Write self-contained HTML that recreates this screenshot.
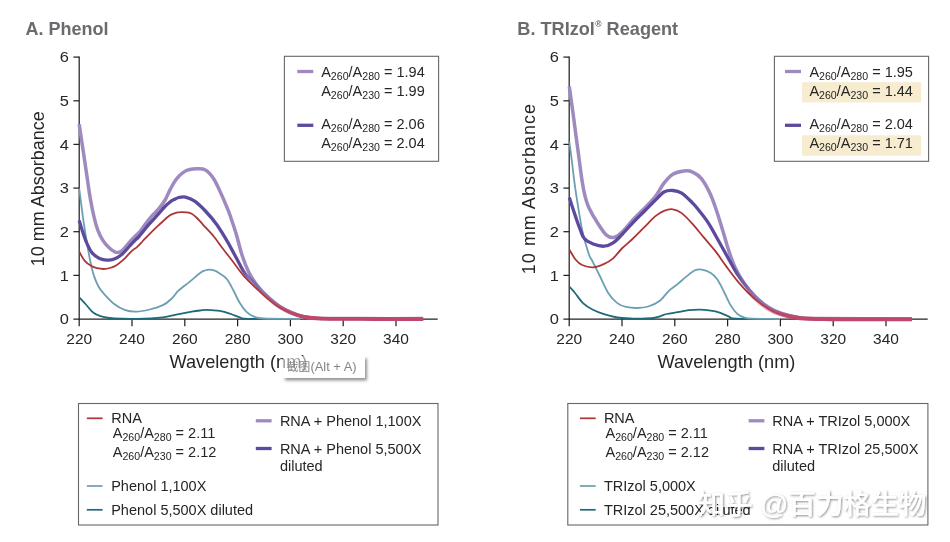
<!DOCTYPE html>
<html><head><meta charset="utf-8"><title>Phenol and TRIzol Reagent absorbance</title>
<style>
html,body{margin:0;padding:0;background:#fff}
body{width:950px;height:542px;overflow:hidden;position:relative;font-family:"Liberation Sans","Noto Sans CJK SC",sans-serif}
svg{position:absolute;left:0;top:0;display:block}
text{font-family:"Liberation Sans","Noto Sans CJK SC",sans-serif;fill:#262626}
.t{font-size:14.5px}
.k{font-size:15.2px}
.s{font-size:10.6px}
.ax{font-size:18px}
.ttl{font-size:18px;font-weight:bold;fill:#6a6b6e}
.c{fill:none;stroke-linecap:butt;stroke-linejoin:round}
.wm{font-family:"Liberation Sans","Noto Sans CJK SC",sans-serif;font-size:27.6px;font-weight:500}
</style></head><body>
<svg width="950" height="542" viewBox="0 0 950 542">
<defs>
<filter id="sh" x="-10%" y="-30%" width="125%" height="180%"><feGaussianBlur in="SourceAlpha" stdDeviation="1.6"/><feOffset dx="1.5" dy="2"/><feComponentTransfer><feFuncA type="linear" slope="0.45"/></feComponentTransfer><feMerge><feMergeNode/><feMergeNode in="SourceGraphic"/></feMerge></filter>
<filter id="wms" x="-5%" y="-20%" width="110%" height="140%"><feGaussianBlur in="SourceAlpha" stdDeviation="0.9"/><feOffset dx="0.9" dy="0.9"/><feComponentTransfer><feFuncA type="linear" slope="0.45"/></feComponentTransfer><feMerge><feMergeNode/><feMergeNode in="SourceGraphic"/></feMerge></filter>
<linearGradient id="tgL" gradientUnits="userSpaceOnUse" x1="256" y1="0" x2="300" y2="0"><stop offset="0" stop-color="#c0476a" stop-opacity="0"/><stop offset="1" stop-color="#c0476a" stop-opacity="1"/></linearGradient>
<linearGradient id="tgR" gradientUnits="userSpaceOnUse" x1="746" y1="0" x2="792" y2="0"><stop offset="0" stop-color="#c0476a" stop-opacity="0"/><stop offset="1" stop-color="#c0476a" stop-opacity="1"/></linearGradient>
<linearGradient id="dpL" gradientUnits="userSpaceOnUse" x1="242" y1="0" x2="262" y2="0"><stop offset="0" stop-color="#5d4a9e" stop-opacity="1"/><stop offset="1" stop-color="#5d4a9e" stop-opacity="0.3"/></linearGradient>
<linearGradient id="dpR" gradientUnits="userSpaceOnUse" x1="734" y1="0" x2="754" y2="0"><stop offset="0" stop-color="#5d4a9e" stop-opacity="1"/><stop offset="1" stop-color="#5d4a9e" stop-opacity="0.3"/></linearGradient>
<filter id="bl" x="-10%" y="-40%" width="120%" height="180%"><feGaussianBlur stdDeviation="1.6"/></filter>
</defs>
<rect width="950" height="542" fill="#fff"/>
<g stroke="#222" stroke-width="1.25" fill="none">
<path d="M79.2 56.4V319.6"/><path d="M73.4 319.0H437.7"/><path d="M73.4 275.4H79.2"/><path d="M73.4 231.7H79.2"/><path d="M73.4 188.1H79.2"/><path d="M73.4 144.4H79.2"/><path d="M73.4 100.8H79.2"/><path d="M73.4 57.1H79.2"/><path d="M79.2 319.0V326.3"/><path d="M132.0 319.0V326.3"/><path d="M184.8 319.0V326.3"/><path d="M237.6 319.0V326.3"/><path d="M290.4 319.0V326.3"/><path d="M343.2 319.0V326.3"/><path d="M396.0 319.0V326.3"/></g>
<text class="k" transform="translate(69.0 324.3) scale(1.080 1)" text-anchor="end">0</text>
<text class="k" transform="translate(69.0 280.7) scale(1.080 1)" text-anchor="end">1</text>
<text class="k" transform="translate(69.0 237.0) scale(1.080 1)" text-anchor="end">2</text>
<text class="k" transform="translate(69.0 193.4) scale(1.080 1)" text-anchor="end">3</text>
<text class="k" transform="translate(69.0 149.7) scale(1.080 1)" text-anchor="end">4</text>
<text class="k" transform="translate(69.0 106.0) scale(1.080 1)" text-anchor="end">5</text>
<text class="k" transform="translate(69.0 62.4) scale(1.080 1)" text-anchor="end">6</text>
<text class="k" transform="translate(79.2 343.7) scale(1.020 1)" text-anchor="middle">220</text>
<text class="k" transform="translate(132.0 343.7) scale(1.020 1)" text-anchor="middle">240</text>
<text class="k" transform="translate(184.8 343.7) scale(1.020 1)" text-anchor="middle">260</text>
<text class="k" transform="translate(237.6 343.7) scale(1.020 1)" text-anchor="middle">280</text>
<text class="k" transform="translate(290.4 343.7) scale(1.020 1)" text-anchor="middle">300</text>
<text class="k" transform="translate(343.2 343.7) scale(1.020 1)" text-anchor="middle">320</text>
<text class="k" transform="translate(396.0 343.7) scale(1.020 1)" text-anchor="middle">340</text>
<path class="c" stroke="#1f6a79" stroke-width="1.8" d="M79.2 297.3C80.2 298.4 83.3 301.6 85.5 304.0C87.7 306.4 90.2 309.9 92.1 311.7C94.0 313.5 95.2 313.9 97.0 314.8C98.8 315.7 100.3 316.2 103.2 316.8C106.1 317.4 108.7 318.1 114.2 318.4C119.7 318.7 128.3 319.0 136.4 318.8C144.5 318.6 156.3 318.0 162.9 317.3C169.5 316.6 171.4 315.5 176.2 314.6C181.0 313.7 187.7 312.4 191.7 311.7C195.7 311.0 197.4 310.8 200.0 310.5C202.6 310.2 203.9 309.7 207.2 309.8C210.5 309.9 215.9 310.2 219.9 310.9C223.9 311.6 227.7 312.9 231.0 314.0C234.3 315.1 236.9 316.5 239.8 317.3C242.8 318.1 238.7 318.6 248.7 318.9C258.7 319.2 291.4 319.0 300.0 319.0"/>
<path class="c" stroke="#6b9fb2" stroke-width="1.8" d="M79.2 188.5C79.8 193.2 81.7 208.2 82.9 216.9C84.1 225.6 85.4 233.5 86.6 240.9C87.8 248.3 89.1 255.4 90.3 261.2C91.5 267.0 92.6 271.7 94.0 275.9C95.4 280.1 97.0 283.7 98.5 286.5C100.0 289.3 100.6 290.0 103.2 292.9C105.8 295.8 110.5 301.1 114.2 304.0C117.9 306.9 121.6 308.9 125.3 310.2C129.0 311.5 132.3 311.8 136.4 311.7C140.5 311.6 145.2 310.6 149.6 309.5C154.0 308.4 159.2 306.9 162.9 305.1C166.6 303.3 169.2 300.9 171.8 298.5C174.4 296.1 175.5 293.5 178.4 290.7C181.3 287.9 185.8 284.9 189.5 281.9C193.2 278.9 197.9 274.7 200.5 272.8C203.1 270.9 203.5 271.0 205.0 270.5C206.5 270.0 208.1 269.7 209.6 269.7C211.1 269.7 212.6 269.9 214.0 270.4C215.4 270.8 216.1 271.0 218.2 272.4C220.3 273.8 224.0 275.7 226.5 278.6C229.0 281.5 231.0 285.9 233.2 290.0C235.4 294.1 237.6 299.4 239.8 303.0C242.0 306.6 244.1 309.5 246.5 311.8C248.9 314.1 251.1 315.5 254.0 316.6C256.9 317.7 256.3 318.1 264.0 318.5C271.7 318.9 294.0 318.9 300.0 319.0"/>
<path class="c" stroke="#9f8abf" stroke-width="3.5" d="M79.2 124.3C79.9 129.1 82.1 143.7 83.5 153.0C84.9 162.3 86.4 172.4 87.5 180.0C88.6 187.6 89.2 192.3 90.3 198.5C91.4 204.7 92.8 211.7 94.0 216.9C95.2 222.1 96.2 225.8 97.7 229.8C99.2 233.8 101.2 237.8 103.2 240.9C105.2 244.0 107.6 246.4 109.7 248.3C111.8 250.2 114.1 252.0 116.1 252.4C118.1 252.8 119.8 252.3 121.7 251.0C123.6 249.7 125.8 246.5 127.5 244.6C129.2 242.7 130.7 240.9 132.0 239.4C133.3 237.9 134.4 237.0 135.6 235.8C136.8 234.6 137.9 233.9 139.4 232.2C140.9 230.5 142.2 228.3 144.3 225.6C146.4 222.9 149.3 218.9 151.7 216.2C154.1 213.5 156.3 211.9 158.5 209.2C160.7 206.5 163.2 203.2 165.1 200.0C167.0 196.8 168.1 193.3 170.0 189.8C171.9 186.3 174.0 181.9 176.6 178.8C179.2 175.7 182.2 172.7 185.5 171.0C188.8 169.3 193.2 169.0 196.5 168.8C199.8 168.6 202.6 168.3 205.4 169.9C208.2 171.5 210.8 174.4 213.5 178.5C216.2 182.6 219.0 189.1 221.4 194.4C223.8 199.7 226.5 206.2 228.2 210.4C229.9 214.6 230.1 215.5 231.5 219.6C232.9 223.7 234.8 229.1 236.5 235.0C238.2 240.9 240.0 248.8 242.0 255.0C244.0 261.2 246.1 266.8 248.7 272.0C251.3 277.2 254.4 281.9 257.5 286.0C260.6 290.1 263.9 293.3 267.5 296.6C271.1 299.9 275.1 303.4 279.0 306.0C282.9 308.6 287.0 310.6 291.0 312.4C295.0 314.1 298.5 315.5 303.0 316.5C307.5 317.5 308.5 317.9 318.0 318.3C327.5 318.7 342.5 318.6 360.0 318.6C377.5 318.7 412.5 318.6 423.0 318.6"/>
<path class="c" stroke="url(#dpL)" stroke-width="3.3" d="M79.2 220.5C79.7 222.1 80.8 226.1 82.0 229.8C83.2 233.5 84.9 238.8 86.6 242.7C88.3 246.5 89.9 250.3 92.1 252.9C94.2 255.5 97.0 257.2 99.5 258.4C102.0 259.6 104.4 260.0 106.9 260.1C109.4 260.2 111.8 259.9 114.3 259.0C116.8 258.1 119.1 256.8 121.7 254.6C124.3 252.4 127.6 248.3 129.7 246.0C131.8 243.7 133.0 242.3 134.5 240.8C136.0 239.3 137.2 238.5 138.6 237.0C140.0 235.5 141.1 233.9 143.0 231.6C144.9 229.3 147.4 226.1 150.0 223.2C152.6 220.2 156.0 216.7 158.5 213.9C161.0 211.1 163.1 208.5 165.0 206.5C166.9 204.5 168.5 203.2 170.0 202.0C171.5 200.8 172.5 200.3 174.0 199.6C175.5 198.8 176.9 197.9 178.8 197.5C180.7 197.1 182.9 196.5 185.5 197.1C188.1 197.7 191.0 198.6 194.3 200.9C197.6 203.2 201.7 207.1 205.4 211.0C209.1 214.9 212.8 219.1 216.5 224.3C220.2 229.5 224.2 236.1 227.7 242.1C231.2 248.1 234.8 255.2 237.7 260.5C240.6 265.8 242.1 269.7 245.4 274.0C248.7 278.3 253.8 282.4 257.5 286.2C261.2 290.0 263.9 293.3 267.5 296.6C271.1 299.9 275.1 303.4 279.0 306.0C282.9 308.6 287.0 310.6 291.0 312.4C295.0 314.1 298.5 315.5 303.0 316.5C307.5 317.5 308.5 317.9 318.0 318.3C327.5 318.7 342.5 318.6 360.0 318.6C377.5 318.7 412.5 318.6 423.0 318.6"/>
<path class="c" stroke="#ae3536" stroke-width="1.8" d="M79.2 251.8C80.1 253.3 82.8 258.5 84.8 260.8C86.8 263.1 89.0 264.6 91.0 265.8C93.0 267.0 94.9 267.7 97.0 268.2C99.1 268.7 101.3 269.0 103.5 269.0C105.7 269.0 107.8 268.6 110.0 268.0C112.2 267.4 114.2 266.6 116.5 265.2C118.8 263.8 121.5 261.5 123.5 259.7C125.5 257.9 127.0 255.9 128.5 254.4C130.0 252.9 131.1 251.7 132.5 250.4C133.9 249.1 135.5 248.4 137.2 246.8C138.9 245.2 140.9 243.0 142.8 241.0C144.7 239.0 146.1 237.4 148.7 234.8C151.3 232.2 155.0 228.6 158.5 225.4C162.0 222.2 166.8 217.5 169.6 215.5C172.3 213.5 173.2 213.8 175.0 213.2C176.8 212.6 178.8 212.3 180.6 212.2C182.4 212.0 184.2 212.1 186.0 212.3C187.8 212.6 189.9 212.8 191.7 213.7C193.5 214.6 195.2 216.2 197.0 218.0C198.8 219.8 199.9 221.2 202.7 224.3C205.5 227.4 210.6 232.6 213.8 236.5C217.0 240.4 218.9 243.4 222.1 247.7C225.3 251.9 229.5 257.2 233.2 262.0C236.9 266.8 240.4 272.1 244.2 276.4C248.0 280.7 252.1 284.3 256.0 288.0C259.9 291.7 263.6 295.4 267.5 298.6C271.4 301.9 275.5 305.1 279.5 307.5C283.5 309.9 287.2 311.7 291.5 313.3C295.8 314.9 299.9 316.1 305.0 317.0C310.1 317.9 312.8 318.2 322.0 318.5C331.2 318.8 343.2 318.7 360.0 318.7C376.8 318.7 412.5 318.7 423.0 318.7"/>
<path class="c" stroke="url(#tgL)" stroke-width="3.9" d="M256.0 287.4C257.9 289.1 263.6 294.6 267.5 297.8C271.4 301.1 275.3 304.4 279.3 306.9C283.3 309.4 287.2 311.3 291.3 313.0C295.4 314.7 299.1 316.0 304.0 316.9C308.9 317.8 311.7 318.3 321.0 318.6C330.3 318.9 346.8 318.8 360.0 318.9C373.2 319.0 389.4 319.1 400.0 319.1C410.6 319.1 419.4 319.1 423.3 319.1"/>
<g stroke="#222" stroke-width="1.25" fill="none">
<path d="M569.2 56.4V319.6"/><path d="M563.4 319.0H927.7"/><path d="M563.4 275.4H569.2"/><path d="M563.4 231.7H569.2"/><path d="M563.4 188.1H569.2"/><path d="M563.4 144.4H569.2"/><path d="M563.4 100.8H569.2"/><path d="M563.4 57.1H569.2"/><path d="M569.2 319.0V326.3"/><path d="M622.0 319.0V326.3"/><path d="M674.8 319.0V326.3"/><path d="M727.6 319.0V326.3"/><path d="M780.4 319.0V326.3"/><path d="M833.2 319.0V326.3"/><path d="M886.0 319.0V326.3"/></g>
<text class="k" transform="translate(559.0 324.3) scale(1.080 1)" text-anchor="end">0</text>
<text class="k" transform="translate(559.0 280.7) scale(1.080 1)" text-anchor="end">1</text>
<text class="k" transform="translate(559.0 237.0) scale(1.080 1)" text-anchor="end">2</text>
<text class="k" transform="translate(559.0 193.4) scale(1.080 1)" text-anchor="end">3</text>
<text class="k" transform="translate(559.0 149.7) scale(1.080 1)" text-anchor="end">4</text>
<text class="k" transform="translate(559.0 106.0) scale(1.080 1)" text-anchor="end">5</text>
<text class="k" transform="translate(559.0 62.4) scale(1.080 1)" text-anchor="end">6</text>
<text class="k" transform="translate(569.2 343.7) scale(1.020 1)" text-anchor="middle">220</text>
<text class="k" transform="translate(622.0 343.7) scale(1.020 1)" text-anchor="middle">240</text>
<text class="k" transform="translate(674.8 343.7) scale(1.020 1)" text-anchor="middle">260</text>
<text class="k" transform="translate(727.6 343.7) scale(1.020 1)" text-anchor="middle">280</text>
<text class="k" transform="translate(780.4 343.7) scale(1.020 1)" text-anchor="middle">300</text>
<text class="k" transform="translate(833.2 343.7) scale(1.020 1)" text-anchor="middle">320</text>
<text class="k" transform="translate(886.0 343.7) scale(1.020 1)" text-anchor="middle">340</text>
<path class="c" stroke="#1f6a79" stroke-width="1.8" d="M569.2 286.5C570.2 287.6 572.9 290.4 575.2 293.2C577.5 296.0 580.0 300.3 583.0 303.1C586.0 305.9 589.4 308.0 592.9 309.8C596.4 311.6 599.9 312.9 604.0 314.2C608.1 315.5 612.5 316.8 617.3 317.5C622.1 318.2 628.9 318.4 632.7 318.6C636.5 318.8 636.6 318.7 640.0 318.6C643.4 318.5 650.0 318.4 653.3 318.0C656.6 317.6 657.8 317.1 660.0 316.4C662.2 315.7 663.6 314.7 666.5 314.0C669.4 313.3 673.9 312.8 677.6 312.2C681.3 311.6 685.0 310.6 688.7 310.2C692.4 309.8 696.0 309.5 699.7 309.6C703.4 309.7 707.5 310.2 710.8 310.7C714.1 311.2 716.6 311.7 719.6 312.6C722.6 313.6 725.7 315.4 728.5 316.4C731.3 317.4 727.9 318.3 736.5 318.7C745.1 319.1 772.8 318.9 780.0 319.0"/>
<path class="c" stroke="#6b9fb2" stroke-width="1.8" d="M569.3 141.9C569.8 145.2 571.0 154.0 572.0 162.0C573.0 170.0 573.8 178.5 575.5 189.8C577.2 201.1 579.9 218.9 582.1 229.6C584.3 240.3 587.2 248.9 588.8 254.0C590.4 259.1 590.0 256.4 591.8 260.0C593.6 263.6 596.8 270.0 599.6 275.5C602.4 281.0 605.5 288.6 608.4 293.2C611.3 297.8 614.3 300.8 617.3 303.1C620.2 305.4 622.8 306.1 626.1 306.9C629.4 307.7 633.5 308.1 637.2 308.0C640.9 307.9 644.4 307.7 648.2 306.5C652.0 305.3 656.5 303.3 659.9 300.7C663.3 298.1 665.8 293.6 668.8 290.8C671.8 288.0 674.6 286.5 677.6 284.1C680.6 281.7 683.5 278.7 686.5 276.4C689.5 274.1 692.7 271.3 695.3 270.2C697.9 269.1 699.3 269.2 701.9 269.7C704.5 270.2 708.2 271.5 710.8 273.1C713.4 274.7 715.2 276.4 717.4 279.5C719.6 282.6 721.9 287.7 724.1 292.0C726.3 296.3 728.5 301.8 730.7 305.4C732.9 309.0 735.1 311.8 737.3 313.8C739.5 315.8 741.5 316.5 744.0 317.3C746.5 318.1 746.0 318.4 752.0 318.7C758.0 319.0 775.3 318.9 780.0 319.0"/>
<path class="c" stroke="#9f8abf" stroke-width="3.5" d="M569.3 86.5C570.0 91.3 571.9 105.0 573.3 115.3C574.7 125.6 576.2 137.6 577.7 148.5C579.2 159.4 580.9 173.1 582.1 181.0C583.3 188.9 583.9 191.6 585.0 196.0C586.1 200.4 586.7 203.0 588.8 207.5C590.9 212.0 594.6 218.4 597.6 223.0C600.6 227.6 603.7 232.8 606.5 235.2C609.3 237.6 611.6 237.9 614.2 237.4C616.8 236.9 618.8 235.3 621.9 232.4C625.0 229.5 629.3 223.8 633.0 219.8C636.7 215.8 640.4 212.4 644.1 208.6C647.8 204.8 651.8 201.0 655.1 196.8C658.4 192.6 661.0 186.9 664.0 183.2C667.0 179.4 669.5 176.3 672.8 174.3C676.1 172.3 680.6 171.4 683.9 171.0C687.2 170.6 689.8 170.8 692.7 172.1C695.7 173.4 698.7 175.1 701.6 178.8C704.5 182.5 708.0 189.0 710.4 194.2C712.8 199.4 714.4 204.4 716.3 210.0C718.2 215.6 719.9 221.1 721.9 227.7C723.9 234.3 726.3 243.2 728.5 249.8C730.7 256.4 732.5 262.0 735.1 267.5C737.7 273.0 740.7 278.2 744.0 283.0C747.3 287.8 751.0 292.2 755.0 296.3C759.0 300.4 763.9 304.4 768.3 307.3C772.7 310.2 776.3 311.8 781.6 313.5C786.9 315.2 793.6 316.8 800.0 317.7C806.4 318.6 801.3 318.4 820.0 318.6C838.7 318.8 896.7 318.8 912.0 318.8"/>
<path class="c" stroke="url(#dpR)" stroke-width="3.3" d="M569.3 197.6C570.3 200.7 573.7 211.2 575.5 216.4C577.3 221.6 578.5 225.3 580.0 229.0C581.5 232.7 582.1 236.0 584.3 238.5C586.5 241.0 589.9 242.7 593.2 244.0C596.5 245.3 600.9 246.4 604.2 246.2C607.5 246.0 610.2 244.8 613.1 242.9C616.0 241.0 618.6 238.0 621.9 234.6C625.2 231.2 629.3 226.4 633.0 222.6C636.7 218.8 640.4 215.2 644.1 211.5C647.8 207.8 651.8 203.7 655.1 200.4C658.4 197.2 661.0 193.7 664.0 192.0C667.0 190.3 669.8 190.3 672.8 190.5C675.8 190.7 678.4 191.0 681.7 193.1C685.0 195.2 689.9 200.3 692.7 203.1C695.5 205.9 696.0 206.6 698.6 210.0C701.2 213.4 705.5 218.5 708.6 223.3C711.7 228.1 714.1 232.9 717.4 238.8C720.7 244.7 725.2 252.8 728.5 258.7C731.8 264.6 734.7 270.1 737.3 274.2C739.9 278.3 741.0 279.8 744.0 283.5C747.0 287.2 751.0 292.3 755.0 296.3C759.0 300.3 763.9 304.4 768.3 307.3C772.7 310.2 776.3 311.8 781.6 313.5C786.9 315.2 793.6 316.8 800.0 317.7C806.4 318.6 801.3 318.4 820.0 318.6C838.7 318.8 896.7 318.8 912.0 318.8"/>
<path class="c" stroke="#ae3536" stroke-width="1.8" d="M569.3 249.6C570.3 251.2 573.4 256.9 575.5 259.5C577.6 262.1 579.1 263.7 582.1 265.0C585.1 266.3 589.5 267.5 593.2 267.3C596.9 267.1 600.9 265.4 604.2 263.9C607.5 262.4 610.2 261.0 613.1 258.4C616.0 255.8 618.6 251.8 621.9 248.5C625.2 245.2 629.3 242.0 633.0 238.5C636.7 235.0 640.4 231.1 644.1 227.4C647.8 223.7 651.8 219.2 655.1 216.4C658.4 213.6 661.0 212.0 664.0 210.8C667.0 209.6 669.8 208.9 672.8 209.3C675.8 209.7 678.4 210.6 681.7 213.1C685.0 215.6 689.0 220.0 692.7 224.1C696.4 228.2 700.0 232.9 703.8 237.4C707.5 241.9 711.5 246.1 715.2 250.9C719.0 255.7 722.6 261.4 726.3 266.4C730.0 271.4 733.6 276.4 737.3 280.8C741.0 285.2 744.7 289.3 748.4 293.0C752.1 296.7 755.5 299.8 759.5 302.9C763.5 305.9 768.3 309.1 772.7 311.3C777.1 313.5 781.5 314.7 786.0 315.8C790.5 316.9 792.7 317.7 800.0 318.2C807.3 318.7 811.3 318.7 830.0 318.8C848.7 318.9 898.3 318.9 912.0 318.9"/>
<path class="c" stroke="url(#tgR)" stroke-width="3.9" d="M744.0 286.0C745.8 288.2 751.0 295.2 755.0 299.0C759.0 302.8 763.9 306.4 768.3 309.0C772.7 311.6 776.3 313.0 781.6 314.5C786.9 316.0 791.9 317.4 800.0 318.2C808.1 319.0 818.3 319.0 830.0 319.2C841.7 319.4 856.3 319.4 870.0 319.4C883.7 319.4 905.0 319.4 912.0 319.4"/>
<text class="ttl" transform="translate(25.4 34.7) scale(1.000 1)" text-anchor="start">A. Phenol</text>
<text class="ttl" transform="translate(517.3 34.8) scale(1.008 1)" text-anchor="start">B. TRIzol<tspan font-size="8.5" dy="-7.6" dx="0.4">®</tspan><tspan dy="7.6"> Reagent</tspan></text>
<text class="ax" transform="translate(238.4 368.0) scale(1.012 1)" text-anchor="middle">Wavelength (nm)</text>
<text class="ax" transform="translate(726.4 368.0) scale(1.012 1)" text-anchor="middle">Wavelength (nm)</text>
<text class="ax" transform="translate(44 188.8) rotate(-90)" text-anchor="middle">10 mm Absorbance</text>
<text class="ax" transform="translate(534.6 188.6) rotate(-90)" text-anchor="middle" letter-spacing="1">10 mm Absorbance</text>
<rect x="284.4" y="56.3" width="154.2" height="105" fill="none" stroke="#666" stroke-width="1.1"/>
<path d="M297.3 71.5h16" stroke="#9f8abf" stroke-width="3.3"/><path d="M297.3 125.3h16" stroke="#5d4a9e" stroke-width="3.3"/>
<text class="t" transform="translate(321.2 76.9) scale(1.000 1)" text-anchor="start">A<tspan class="s" dy="3">260</tspan><tspan dy="-3">/A</tspan><tspan class="s" dy="3">280</tspan><tspan dy="-3"> = 1.94</tspan></text>
<text class="t" transform="translate(321.2 95.7) scale(1.000 1)" text-anchor="start">A<tspan class="s" dy="3">260</tspan><tspan dy="-3">/A</tspan><tspan class="s" dy="3">230</tspan><tspan dy="-3"> = 1.99</tspan></text>
<text class="t" transform="translate(321.2 129.3) scale(1.000 1)" text-anchor="start">A<tspan class="s" dy="3">260</tspan><tspan dy="-3">/A</tspan><tspan class="s" dy="3">280</tspan><tspan dy="-3"> = 2.06</tspan></text>
<text class="t" transform="translate(321.2 147.5) scale(1.000 1)" text-anchor="start">A<tspan class="s" dy="3">260</tspan><tspan dy="-3">/A</tspan><tspan class="s" dy="3">230</tspan><tspan dy="-3"> = 2.04</tspan></text>
<rect x="802.1" y="82.2" width="119" height="20.2" fill="#f7ebd0"/><rect x="802.1" y="135.3" width="119" height="20.4" fill="#f7ebd0"/>
<rect x="774.4" y="56.3" width="154.2" height="105" fill="none" stroke="#666" stroke-width="1.1"/>
<path d="M785.0 71.5h16" stroke="#9f8abf" stroke-width="3.3"/><path d="M785.0 125.3h16" stroke="#5d4a9e" stroke-width="3.3"/>
<text class="t" transform="translate(809.4 76.9) scale(1.000 1)" text-anchor="start">A<tspan class="s" dy="3">260</tspan><tspan dy="-3">/A</tspan><tspan class="s" dy="3">280</tspan><tspan dy="-3"> = 1.95</tspan></text>
<text class="t" transform="translate(809.4 95.7) scale(1.000 1)" text-anchor="start">A<tspan class="s" dy="3">260</tspan><tspan dy="-3">/A</tspan><tspan class="s" dy="3">230</tspan><tspan dy="-3"> = 1.44</tspan></text>
<text class="t" transform="translate(809.4 129.3) scale(1.000 1)" text-anchor="start">A<tspan class="s" dy="3">260</tspan><tspan dy="-3">/A</tspan><tspan class="s" dy="3">280</tspan><tspan dy="-3"> = 2.04</tspan></text>
<text class="t" transform="translate(809.4 147.5) scale(1.000 1)" text-anchor="start">A<tspan class="s" dy="3">260</tspan><tspan dy="-3">/A</tspan><tspan class="s" dy="3">230</tspan><tspan dy="-3"> = 1.71</tspan></text>
<rect x="78.5" y="403.5" width="359.5" height="121.5" fill="none" stroke="#666" stroke-width="1.1"/>
<path d="M86.8 418.3h15.8" stroke="#ae3536" stroke-width="1.7"/><path d="M86.8 486h15.8" stroke="#6b9fb2" stroke-width="1.7"/><path d="M86.8 509.8h15.8" stroke="#1f6a79" stroke-width="1.7"/><path d="M255.8 420.8h15.8" stroke="#9f8abf" stroke-width="3.3"/><path d="M255.8 448.5h15.8" stroke="#5d4a9e" stroke-width="3.3"/>
<text class="t" transform="translate(111.2 423.0) scale(1.000 1)" text-anchor="start">RNA</text>
<text class="t" transform="translate(112.8 437.8) scale(1.000 1)" text-anchor="start">A<tspan class="s" dy="3">260</tspan><tspan dy="-3">/A</tspan><tspan class="s" dy="3">280</tspan><tspan dy="-3"> = 2.11</tspan></text>
<text class="t" transform="translate(112.8 457.0) scale(1.000 1)" text-anchor="start">A<tspan class="s" dy="3">260</tspan><tspan dy="-3">/A</tspan><tspan class="s" dy="3">230</tspan><tspan dy="-3"> = 2.12</tspan></text>
<text class="t" transform="translate(111.2 490.7) scale(1.000 1)" text-anchor="start">Phenol 1,100X</text>
<text class="t" transform="translate(111.2 514.5) scale(1.000 1)" text-anchor="start">Phenol 5,500X diluted</text>
<text class="t" transform="translate(279.9 426.1) scale(1.000 1)" text-anchor="start">RNA + Phenol 1,100X</text>
<text class="t" transform="translate(279.9 453.8) scale(1.000 1)" text-anchor="start">RNA + Phenol 5,500X</text>
<text class="t" transform="translate(279.9 470.8) scale(1.000 1)" text-anchor="start">diluted</text>
<rect x="567.8" y="403.5" width="360.1" height="121.5" fill="none" stroke="#666" stroke-width="1.1"/>
<path d="M579.9 418.3h15.8" stroke="#ae3536" stroke-width="1.7"/><path d="M579.9 486h15.8" stroke="#6b9fb2" stroke-width="1.7"/><path d="M579.9 509.8h15.8" stroke="#1f6a79" stroke-width="1.7"/><path d="M748.6 420.8h15.8" stroke="#9f8abf" stroke-width="3.3"/><path d="M748.6 448.5h15.8" stroke="#5d4a9e" stroke-width="3.3"/>
<text class="t" transform="translate(603.9 423.0) scale(1.000 1)" text-anchor="start">RNA</text>
<text class="t" transform="translate(605.5 437.8) scale(1.000 1)" text-anchor="start">A<tspan class="s" dy="3">260</tspan><tspan dy="-3">/A</tspan><tspan class="s" dy="3">280</tspan><tspan dy="-3"> = 2.11</tspan></text>
<text class="t" transform="translate(605.5 457.0) scale(1.000 1)" text-anchor="start">A<tspan class="s" dy="3">260</tspan><tspan dy="-3">/A</tspan><tspan class="s" dy="3">230</tspan><tspan dy="-3"> = 2.12</tspan></text>
<text class="t" transform="translate(603.9 490.7) scale(1.000 1)" text-anchor="start">TRIzol 5,000X</text>
<text class="t" transform="translate(603.9 514.5) scale(1.000 1)" text-anchor="start">TRIzol 25,500X diluted</text>
<text class="t" transform="translate(772.3 426.1) scale(1.000 1)" text-anchor="start">RNA + TRIzol 5,000X</text>
<text class="t" transform="translate(772.3 453.8) scale(1.000 1)" text-anchor="start">RNA + TRIzol 25,500X</text>
<text class="t" transform="translate(772.3 470.8) scale(1.000 1)" text-anchor="start">diluted</text>
<clipPath id="tc"><path clip-rule="evenodd" d="M260 340H390V395H260ZM283 356H365V378H283Z"/></clipPath>
<g clip-path="url(#tc)"><rect x="285" y="358.5" width="82" height="22" fill="#000" fill-opacity="0.42" filter="url(#bl)"/></g>
<rect x="283" y="356" width="82" height="22" fill="#fff" fill-opacity="0.56"/>
<text x="286.8" y="371.3" font-size="11.8" style="fill:#858585">截图<tspan font-size="12.9">(Alt + A)</tspan></text>
<g filter="url(#wms)"><text class="wm" x="697.5" y="514" style="fill:#fff">知乎 @百力格生物</text></g>
</svg>
</body></html>
